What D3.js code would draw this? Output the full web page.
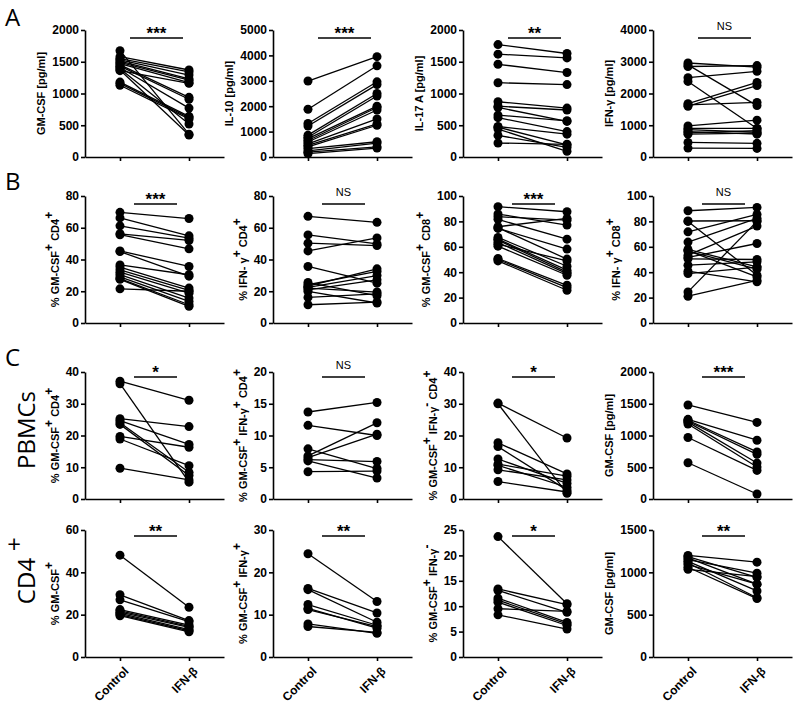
<!DOCTYPE html>
<html>
<head>
<meta charset="utf-8">
<script src="https://cdn.jsdelivr.net/npm/d3@7"></script>
<style>
  body { margin: 0; background: #fff; }
  svg { font-family: "Liberation Sans", Arial, sans-serif; }
  .tick text { font-weight: bold; font-size: 12px; }
  .ytitle { font-weight: bold; font-size: 11px; }
  .rowlab { font-family: "Open Sans", sans-serif; font-size: 24px; }
</style>
</head>
<body>
<div id="chart"></div>
<script>
// groups
var groups = ['Control', 'IFN-β']

// row A
var a1Ctrl = [1674,1580,1550,1530,1510,1490,1470,1450,1430,1410,1390,1370,1360,1180,1160,1130]
var a1Ifn  = [360,1370,1340,1290,1230,1210,1170,940,910,770,520,345,1160,640,620,600]
var a2Ctrl = [2990,1880,1320,1220,860,780,720,650,590,520,460,400,330,240,190,130]
var a2Ifn  = [3950,3590,2960,2850,2500,2400,2000,1950,1850,1500,1300,1250,600,550,400,350]
var a3Ctrl = [1770,1620,1460,1170,870,800,780,660,620,480,470,440,340,220]
var a3Ifn  = [1630,1560,1330,1140,770,740,560,570,400,360,190,90,150,200]
var a4Ctrl = [2960,2900,2850,2500,2380,1680,1640,1600,980,900,860,800,760,720,460,280]
var a4Ifn  = [2830,1620,2880,2700,900,2350,1720,2250,1160,900,780,720,830,750,430,270]

// row B
var b1Ctrl = [69.7,66.2,61.2,56.2,55.6,45.4,45.0,36.6,35.2,33.5,32.0,30.5,29.0,28.0,27.5,21.5]
var b1Ifn  = [65.8,54.9,53.4,52.0,46.7,35.6,29.5,30.4,22.0,20.5,18.8,15.7,13.6,11.5,10.5,20.0]
var b2Ctrl = [67.2,55.5,50.3,45.4,35.6,25.5,24.1,23.2,22.5,22.0,20.9,19.9,16.1,11.5]
var b2Ifn  = [63.4,49.8,48.8,53.6,25.1,17.2,32.5,34.1,29.9,19.5,27.2,12.6,18.4,13.2]
var b3Ctrl = [91.6,85.8,83.7,81.6,75.8,75.0,74.5,67.4,66.0,65.3,63.4,62.1,60.5,50.8,50.0,48.9]
var b3Ifn  = [87.6,77.1,81.0,66.0,82.4,50.3,58.2,44.7,41.6,40.0,38.9,48.9,37.6,29.7,27.9,25.8]
var b4Ctrl = [88.4,80.3,80.0,71.8,63.7,57.9,57.0,56.6,53.4,51.6,50.5,45.5,40.8,38.9,24.5,21.1]
var b4Ifn  = [91.0,80.5,37.6,85.5,82.4,44.2,36.3,42.4,76.3,62.6,50.0,48.2,32.4,44.0,80.0,33.5]

// row C (PBMCs)
var c1Ctrl = [37.1,36.3,25.3,24.7,24.0,23.5,19.7,18.9,9.7]
var c1Ifn  = [31.1,5.3,22.8,17.2,8.4,7.4,16.3,10.5,6.0]
var c2Ctrl = [13.7,11.6,7.9,6.8,6.5,6.2,6.0,4.3]
var c2Ifn  = [15.2,10.0,4.8,12.0,10.2,5.9,3.3,4.4]
var c3Ctrl = [30.2,30.0,17.7,16.5,12.6,11.0,10.6,9.2,5.5]
var c3Ifn  = [19.2,1.8,7.9,2.8,4.9,7.2,3.7,6.0,2.2]
var c4Ctrl = [1481,1254,1240,1225,1210,1180,968,571]
var c4Ifn  = [1206,926,741,704,566,503,450,79]

// row D (CD4+)
var d1Ctrl = [48.1,29.4,27.0,22.4,21.8,21.2,20.6,20.0,19.5]
var d1Ifn  = [23.5,17.2,16.7,15.1,14.5,14.0,12.9,12.4,11.9]
var d2Ctrl = [24.4,16.2,15.9,12.4,11.5,11.2,7.8,7.2]
var d2Ifn  = [13.1,10.4,8.2,7.5,6.8,7.2,5.6,5.8]
var d3Ctrl = [23.7,13.4,13.1,11.6,11.2,10.8,9.5,8.3]
var d3Ifn  = [10.5,10.3,8.8,6.8,6.5,6.2,9.0,5.5]
var d4Ctrl = [1200,1185,1170,1150,1130,1110,1090,1060,1035]
var d4Ifn  = [1120,940,860,990,780,700,860,690,950]

// axis maxima / steps, titles (^x = superscript), significance
var yMax   = [2000,5000,2000,4000, 80,80,100,100, 40,20,40,2000, 60,30,25,1500]
var yStep  = [500,1000,500,1000, 20,20,20,20, 10,5,10,500, 20,10,5,500]
var titles = ['GM-CSF [pg/ml]','IL-10 [pg/ml]','IL-17 A [pg/ml]','IFN-γ [pg/ml]',
              '% GM-CSF^+ CD4^+','% IFN- γ^+ CD4^+','% GM-CSF^+ CD8^+','% IFN- γ^+ CD8^+',
              '% GM-CSF^+ CD4^+','% GM-CSF^+ IFN-γ^+ CD4^+','% GM-CSF^+ IFN-γ^- CD4^+','GM-CSF [pg/ml]',
              '% GM-CSF^+','% GM-CSF^+ IFN-γ^+','% GM-CSF^+ IFN-γ^-','GM-CSF [pg/ml]']
var sigs   = ['***','***','**','NS', '***','NS','***','NS', '*','NS','*','***', '**','**','*','**']

var ctrls = [a1Ctrl,a2Ctrl,a3Ctrl,a4Ctrl,b1Ctrl,b2Ctrl,b3Ctrl,b4Ctrl,c1Ctrl,c2Ctrl,c3Ctrl,c4Ctrl,d1Ctrl,d2Ctrl,d3Ctrl,d4Ctrl]
var ifns  = [a1Ifn,a2Ifn,a3Ifn,a4Ifn,b1Ifn,b2Ifn,b3Ifn,b4Ifn,c1Ifn,c2Ifn,c3Ifn,c4Ifn,d1Ifn,d2Ifn,d3Ifn,d4Ifn]

var colX = [85, 273, 463, 653]
var rowTop = [30, 196, 372, 530]
var plotH = 127, plotW = 139

var svg = d3.select('#chart').append('svg')
    .attr('width', 800)
    .attr('height', 706)

// panel letters and row names
svg.append('text').attr('class','rowlab').attr('x',5).attr('y',26).text('A')
svg.append('text').attr('class','rowlab').attr('x',5).attr('y',190).text('B')
svg.append('text').attr('class','rowlab').attr('x',5).attr('y',366).text('C')
svg.append('text').attr('class','rowlab')
    .attr('transform','translate(35,430) rotate(-90)')
    .attr('text-anchor','middle').text('PBMCs')
svg.append('text').attr('class','rowlab')
    .attr('transform','translate(35,581) rotate(-90)')
    .attr('text-anchor','middle').text('CD4')
svg.append('text').attr('class','rowlab')
    .attr('x', 14).attr('y', 553)
    .attr('text-anchor','middle').attr('font-size','20px').text('+')

for (let i = 0; i < 16; i++) {
    let row = Math.floor(i / 4), col = i % 4
    let g = svg.append('g')
        .attr('transform', 'translate(' + colX[col] + ',' + rowTop[row] + ')')

    let y = d3.scaleLinear().domain([0, yMax[i]]).range([plotH, 0])
    let x = d3.scalePoint().domain(groups).range([0, plotW]).padding(0.507)

    let yAxis = d3.axisLeft(y)
        .tickValues(d3.range(0, yMax[i] + yStep[i] / 2, yStep[i]))
        .tickFormat(d3.format('d'))
        .tickSize(4).tickSizeOuter(0).tickPadding(2)
    g.append('g').call(yAxis)

    let xAxis = d3.axisBottom(x).tickSize(4).tickSizeOuter(0)
    let xa = g.append('g').attr('transform','translate(0,' + plotH + ')').call(xAxis)
    if (row < 3) {
        xa.selectAll('.tick text').remove()
    } else {
        xa.selectAll('.tick text')
            .attr('text-anchor','end')
            .attr('dy', null)
            .attr('transform','translate(4,10) rotate(-45)')
    }
    g.selectAll('.domain, .tick line').attr('stroke-width', 1.6)

    // y title
    let nChars = String(yMax[i]).length
    let tx = -(13 + nChars * 6.7)
    let t = g.append('text').attr('class','ytitle')
        .attr('text-anchor','middle')
        .attr('transform','translate(' + tx + ',' + (plotH / 2) + ') rotate(-90)')
    let parts = titles[i].split('^')
    parts.forEach(function(p, k) {
        if (k == 0) { t.append('tspan').text(p); return }
        t.append('tspan').attr('dy', -6).attr('font-size', '12px').text(p[0])
        if (p.length > 1) t.append('tspan').attr('dy', 6).text(p.slice(1))
    })

    // pairs
    let pairs = ctrls[i].map(function(v, k) { return {c: v, f: ifns[i][k]} })
    g.selectAll('.pair').data(pairs).enter().append('line')
        .attr('x1', x(groups[0])).attr('x2', x(groups[1]))
        .attr('y1', function(d) { return y(d.c) })
        .attr('y2', function(d) { return y(d.f) })
        .attr('stroke', '#000').attr('stroke-width', 1.3)
    g.selectAll('.dc').data(pairs).enter().append('circle')
        .attr('cx', x(groups[0])).attr('cy', function(d) { return y(d.c) })
        .attr('r', 4.5).attr('fill', '#000')
    g.selectAll('.df').data(pairs).enter().append('circle')
        .attr('cx', x(groups[1])).attr('cy', function(d) { return y(d.f) })
        .attr('r', 4.5).attr('fill', '#000')

    // significance bar
    let sx0 = row == 0 ? 45 : 49, sx1 = row == 0 ? 98 : 92
    let sy = row == 2 ? 5 : (row == 3 ? 6 : 8)
    g.append('line').attr('x1', sx0).attr('x2', sx1).attr('y1', sy).attr('y2', sy)
        .attr('stroke','#000').attr('stroke-width', 1.6)
    if (sigs[i] == 'NS') {
        g.append('text').attr('x', (sx0 + sx1) / 2).attr('y', sy - 8)
            .attr('text-anchor','middle').attr('font-size','11px').text('NS')
    } else {
        g.append('text').attr('x', (sx0 + sx1) / 2).attr('y', sy + 1)
            .attr('text-anchor','middle').attr('font-size','17px').attr('font-weight','bold')
            .text(sigs[i])
    }
}
</script>
</body>
</html>
